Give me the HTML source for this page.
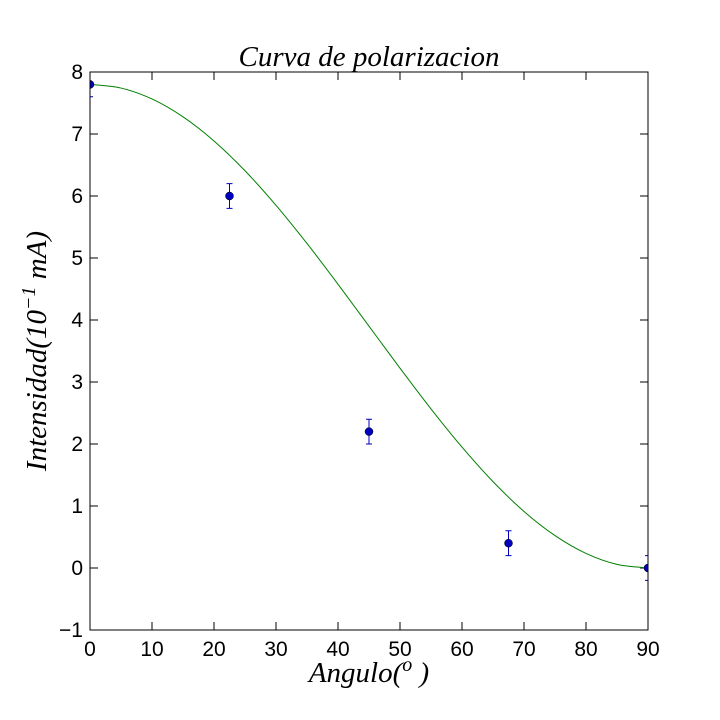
<!DOCTYPE html>
<html><head><meta charset="utf-8"><style>
body{margin:0;background:#fff;}
svg{display:block;}
text{font-family:"Liberation Sans",sans-serif;}
.m{font-family:"Liberation Serif",serif;font-style:italic;}
</style></head><body>
<svg id="chart" width="720" height="720" viewBox="0 0 720 720">
<defs><clipPath id="clip"><rect x="90" y="72" width="558" height="558"/></clipPath></defs>
<rect x="0" y="0" width="720" height="720" fill="#fff"/>
<g id="grid"></g>
<path id="curve" fill="none" stroke="#008000" stroke-width="1" clip-path="url(#clip)"/>
<g id="pts" clip-path="url(#clip)"></g>
<rect x="90" y="72" width="558" height="558" fill="none" stroke="#000" stroke-width="1"/>
<text class="m" x="369" y="66" font-size="29" text-anchor="middle">Curva de polarizacion</text>
<text class="m" x="369" y="682" font-size="29" text-anchor="middle">Angulo(<tspan dy="-11" font-size="20">o</tspan><tspan dy="11"> )</tspan></text>
<text class="m" transform="translate(46,351) rotate(-90)" font-size="29" text-anchor="middle">Intensidad(10<tspan dy="-11" font-size="20">−1</tspan><tspan dy="11"> mA)</tspan></text>
</svg>
<script>
const xTicks=[0,10,20,30,40,50,60,70,80,90];
const yTicks=[-1,0,1,2,3,4,5,6,7,8];
const ptX=[0,22.5,45,67.5,90];
const ptY=[7.8,6.0,2.2,0.4,0.0];
const ptErr=[0.2,0.2,0.2,0.2,0.2];
const curveX=[0,5,10,15,20,25,30,35,40,45,50,55,60,65,70,75,80,85,90];
const curveY=[7.8,7.741,7.565,7.277,6.888,6.407,5.85,5.234,4.577,3.9,3.223,2.566,1.95,1.393,0.912,0.523,0.235,0.059,0];
const NS="http://www.w3.org/2000/svg";
const X0=90,X1=648,Y0=630,Y1=72;
const sx=v=>X0+(v-0)/(90-0)*(X1-X0);
const sy=v=>Y0-(v-(-1))/(8-(-1))*(Y0-Y1);
function mk(tag,attrs,parent){const e=document.createElementNS(NS,tag);for(const k in attrs)e.setAttribute(k,attrs[k]);parent.appendChild(e);return e;}
const g=document.getElementById('grid');
xTicks.forEach(t=>{const x=sx(t);
 const a=mk('line',{x1:x,x2:x,y1:Y0,y2:Y0-8,stroke:'#000'},g);
 
 
 const b=mk('line',{x1:x,x2:x,y1:Y1,y2:Y1+8,stroke:'#000'},g);
 
 
 const l=mk('text',{x:x,y:Y0+26,'font-size':21,'text-anchor':'middle'},g);l.textContent=t;
 
 
});
yTicks.forEach(t=>{const y=sy(t);
 const a=mk('line',{x1:X0,x2:X0+8,y1:y,y2:y,stroke:'#000'},g);
 
 
 const b=mk('line',{x1:X1,x2:X1-8,y1:y,y2:y,stroke:'#000'},g);
 
 
 const l=mk('text',{x:X0-7,y:y+7,'font-size':21,'text-anchor':'end'},g);l.textContent=(t<0?'−'+(-t):t);
 
 
});
const P=curveX.map((v,i)=>[sx(v),sy(curveY[i])]);
let d='M'+P[0][0]+','+P[0][1];
for(let i=0;i<P.length-1;i++){const p0=P[Math.max(i-1,0)],p1=P[i],p2=P[i+1],p3=P[Math.min(i+2,P.length-1)];
 d+=' C'+(p1[0]+(p2[0]-p0[0])/6)+','+(p1[1]+(p2[1]-p0[1])/6)+' '+(p2[0]-(p3[0]-p1[0])/6)+','+(p2[1]-(p3[1]-p1[1])/6)+' '+p2[0]+','+p2[1];}
document.getElementById('curve').setAttribute('d',d);
const pg=document.getElementById('pts');
ptX.forEach((v,i)=>{const x=sx(v),y=sy(ptY[i]),yt=sy(ptY[i]+ptErr[i]),yb=sy(ptY[i]-ptErr[i]);
 const e=mk('path',{d:`M${x},${yt}V${yb}M${x-3},${yt}H${x+3}M${x-3},${yb}H${x+3}`,stroke:'#0000bf','stroke-width':1,fill:'none'},pg);
 
 
 const c=mk('circle',{cx:x,cy:y,r:4,fill:'#0000bf',stroke:'#000','stroke-width':0.5},pg);
 
 
});
</script>
</body></html>
